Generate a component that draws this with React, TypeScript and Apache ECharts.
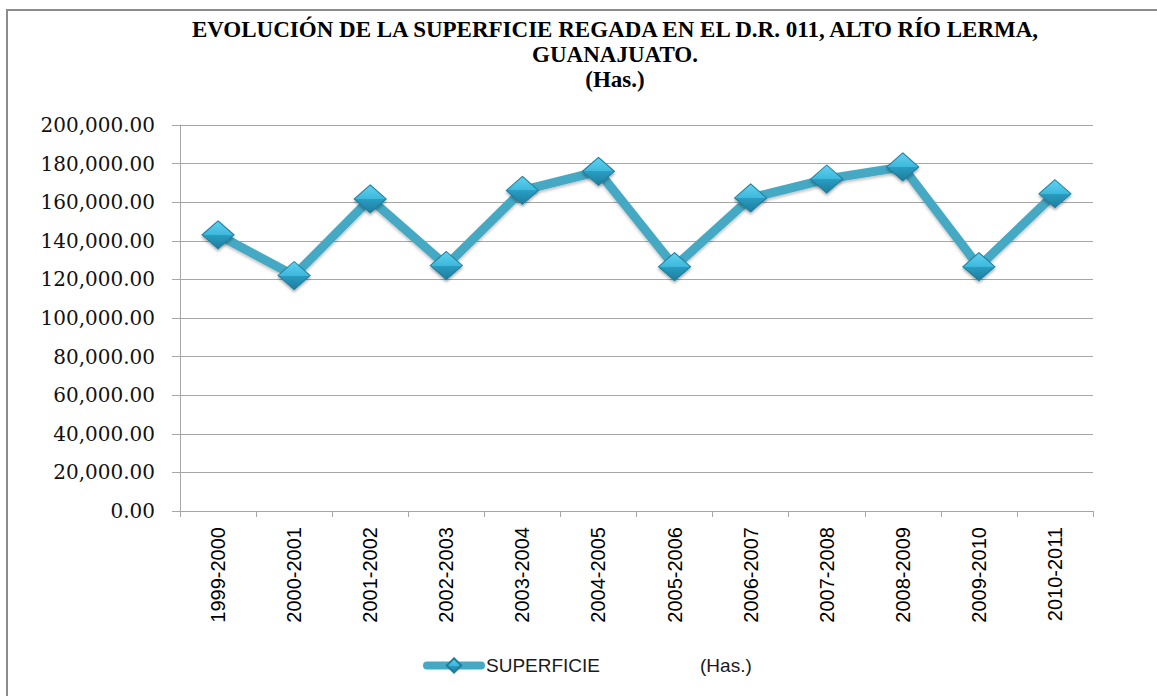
import React, { useEffect, useRef } from "react";
import * as echarts from "echarts";

const categories = [
  "1999-2000", "2000-2001", "2001-2002", "2002-2003", "2003-2004", "2004-2005",
  "2005-2006", "2006-2007", "2007-2008", "2008-2009", "2009-2010", "2010-2011",
];
const superficie = [
  143100, 122000, 161700, 127200, 166100, 176000,
  126600, 162200, 172000, 178300, 126600, 164400,
];
const titleLines = [
  "EVOLUCIÓN DE LA SUPERFICIE REGADA EN EL D.R. 011, ALTO RÍO LERMA,",
  "GUANAJUATO.",
  "(Has.)",
];
const seriesName = "SUPERFICIE";
const legendUnit = "(Has.)";
const yMin = 0;
const yMax = 200000;
const yInterval = 20000;

export default function App() {
  const ref = useRef<HTMLDivElement>(null);
  useEffect(() => {
    document.body.style.margin = "0";
    if (!ref.current) return;
    const chart = echarts.init(ref.current, null, { renderer: "svg" });
    const markerColor = new echarts.graphic.LinearGradient(0, 0, 0, 1, [
      { offset: 0, color: "#62d2f0" },
      { offset: 0.5, color: "#3cb8dc" },
      { offset: 0.5, color: "#2a9dc2" },
      { offset: 1, color: "#1d7e9f" },
    ]);
    chart.setOption({
      animation: false,
      backgroundColor: "#ffffff",
      title: {
        text: titleLines.join("\n"),
        left: 610,
        top: 12,
        textAlign: "center",
        textStyle: {
          fontFamily: "Liberation Serif",
          fontWeight: "bold",
          fontSize: 23,
          lineHeight: 25,
          color: "#000000",
        },
      },
      graphic: [
        {
          type: "rect",
          shape: { x: 7, y: 10, width: 1400, height: 1000 },
          style: { fill: "none", stroke: "#8c8c8c", lineWidth: 2 },
          silent: true,
        },
      ],
      legend: {
        left: 423,
        top: 656,
        padding: 0,
        itemWidth: 54,
        itemHeight: 18,
        itemGap: 2,
        data: [seriesName],
        lineStyle: { width: 8, cap: "round", color: "#45a9c4" },
        formatter: () => `{a|${seriesName}}{b|${legendUnit}}`,
        textStyle: {
          rich: {
            a: { fontFamily: "Liberation Sans", fontSize: 19, color: "#1a1a1a" },
            b: {
              fontFamily: "Liberation Sans",
              fontSize: 19,
              color: "#1a1a1a",
              padding: [0, 0, 0, 100],
            },
          },
        },
      },
      grid: { left: 180, right: 64, top: 125, bottom: 185 },
      xAxis: {
        type: "category",
        data: categories,
        boundaryGap: true,
        axisLine: { show: true, lineStyle: { color: "#a6a6a6", width: 1 } },
        axisTick: { show: true, length: 6, lineStyle: { color: "#a6a6a6" } },
        axisLabel: {
          rotate: 90,
          margin: 16,
          fontFamily: "Liberation Sans",
          fontSize: 20,
          color: "#000000",
          interval: 0,
        },
      },
      yAxis: {
        type: "value",
        min: yMin,
        max: yMax,
        interval: yInterval,
        axisLine: { show: true, lineStyle: { color: "#a6a6a6", width: 1 } },
        axisTick: { show: true, length: 8, lineStyle: { color: "#a6a6a6" } },
        splitLine: { show: true, lineStyle: { color: "#a6a6a6", width: 1 } },
        axisLabel: {
          margin: 25,
          fontFamily: "DejaVu Serif",
          fontSize: 20,
          color: "#111111",
          formatter: (v: number) =>
            v.toLocaleString("en-US", { minimumFractionDigits: 2, maximumFractionDigits: 2 }),
        },
      },
      series: [
        {
          name: seriesName,
          type: "line",
          data: superficie,
          symbol: "diamond",
          symbolSize: [32, 28],
          lineStyle: {
            color: "#45a9c4",
            width: 9,
            shadowColor: "rgba(0,0,0,0.25)",
            shadowBlur: 3,
            shadowOffsetY: 2,
          },
          itemStyle: {
            color: markerColor,
            borderColor: "#1f7d9c",
            borderWidth: 1,
            shadowColor: "rgba(0,0,0,0.35)",
            shadowBlur: 3,
            shadowOffsetY: 2,
          },
          z: 3,
        },
      ],
    });
    return () => chart.dispose();
  }, []);
  return <div ref={ref} style={{ width: 1157, height: 696 }} />;
}
